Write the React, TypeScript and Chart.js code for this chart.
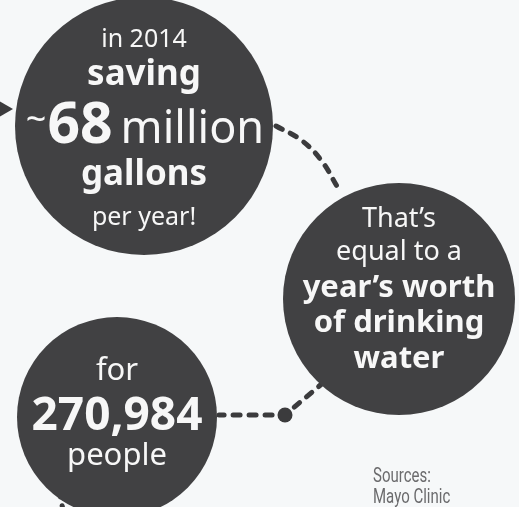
import React, { useEffect, useRef } from "react";
import { Chart, registerables } from "chart.js";

Chart.register(...registerables);

// Bubbles (centre x, centre y, radius in px)
const circleX = [144, 399, 117];
const circleY = [126, 299, 417];
const circleR = [129, 116, 100];

// Dashed connectors
const connA_X = [276, 301, 321, 338];
const connA_Y = [126, 140, 160, 188];
const connB_X = [324, 285, 219];
const connB_Y = [382, 415, 415];
const connC_X = [59, 64];
const connC_Y = [490, 515];
const dotX = [285];
const dotY = [415];
const arrowX = [4];
const arrowY = [109];

// Texts
const circle1Lines = ["in 2014", "saving", "~|68|million", "gallons", "per year!"];
const circle2Lines = ["That’s", "equal to a", "year’s worth", "of drinking", "water"];
const circle3Lines = ["for", "270,984", "people"];
const sourceLines = ["Sources:", "Mayo Clinic"];

const FONT = '"Noto Sans", "Open Sans", sans-serif';
const DARK = "#414143";
const TEXT = "#f7f7f7";

type Style = { size: number; bold: boolean; dy: number };
const circle1Style: Style[] = [
  { size: 25, bold: false, dy: -79 },
  { size: 35, bold: true, dy: -41 },
  { size: 45, bold: false, dy: 17 },
  { size: 35, bold: true, dy: 59 },
  { size: 25, bold: false, dy: 99 },
];
const circle2Style: Style[] = [
  { size: 27, bold: false, dy: -72 },
  { size: 27, bold: false, dy: -39 },
  { size: 31, bold: true, dy: -2 },
  { size: 31, bold: true, dy: 33 },
  { size: 31, bold: true, dy: 69 },
];
const circle3Style: Style[] = [
  { size: 31, bold: false, dy: -37 },
  { size: 46, bold: true, dy: 13 },
  { size: 31, bold: false, dy: 48 },
];

const textPlugin = {
  id: "bubbleText",
  afterDatasetsDraw(chart: any) {
    const ctx = chart.ctx as CanvasRenderingContext2D;
    const xs = chart.scales.x;
    const ys = chart.scales.y;
    ctx.save();
    ctx.textBaseline = "alphabetic";
    const groups: [string[], Style[], number][] = [
      [circle1Lines, circle1Style, 0],
      [circle2Lines, circle2Style, 1],
      [circle3Lines, circle3Style, 2],
    ];
    for (const [lines, styles, ci] of groups) {
      const cx = xs.getPixelForValue(circleX[ci]);
      const cy = ys.getPixelForValue(circleY[ci]);
      lines.forEach((line, i) => {
        const st = styles[i];
        ctx.fillStyle = TEXT;
        if (line.includes("|")) {
          const parts = line.split("|");
          const segs = [
            { t: parts[0], f: `400 36px ${FONT}`, dy: -11, gap: 1 },
            { t: parts[1], f: `700 57px ${FONT}`, dy: 0, gap: 8 },
            { t: parts[2], f: `400 ${st.size}px ${FONT}`, dy: 0, gap: 0 },
          ];
          let total = 0;
          const widths = segs.map((s) => {
            ctx.font = s.f;
            const w = ctx.measureText(s.t).width;
            total += w + s.gap;
            return w;
          });
          let x = cx + 1 - total / 2;
          ctx.textAlign = "left";
          segs.forEach((s, k) => {
            ctx.font = s.f;
            ctx.fillText(s.t, x, cy + st.dy + s.dy);
            x += widths[k] + s.gap;
          });
        } else {
          ctx.textAlign = "center";
          ctx.font = `${st.bold ? 700 : 400} ${st.size}px ${FONT}`;
          ctx.fillText(line, cx, cy + st.dy);
        }
      });
    }
    ctx.fillStyle = "#6b6b6d";
    ctx.textAlign = "left";
    ctx.font = `20px Roboto, "Noto Sans", sans-serif`;
    ctx.save();
    ctx.translate(373, 0);
    ctx.scale(0.75, 1);
    ctx.fillText(sourceLines[0], 0, 482);
    ctx.fillText(sourceLines[1], 0, 503);
    ctx.restore();
    ctx.restore();
  },
};

const bgPlugin = {
  id: "bg",
  beforeDraw(chart: any) {
    const ctx = chart.ctx as CanvasRenderingContext2D;
    ctx.save();
    ctx.fillStyle = "#f6f8f9";
    ctx.fillRect(0, 0, chart.width, chart.height);
    ctx.restore();
  },
};

const toPts = (xs: number[], ys: number[]) => xs.map((x, i) => ({ x, y: ys[i] }));

export default function App() {
  const ref = useRef<HTMLCanvasElement | null>(null);
  useEffect(() => {
    if (!ref.current) return;
    const dash = {
      type: "line" as const,
      borderColor: "#3b3b3d",
      borderWidth: 5,
      borderDash: [7, 9],
      borderCapStyle: "round" as const,
      pointRadius: 0,
      fill: false,
      clip: false,
      order: 2,
    };
    const chart = new Chart(ref.current, {
      type: "bubble",
      data: {
        datasets: [
          {
            type: "bubble",
            data: circleX.map((x, i) => ({ x, y: circleY[i], r: circleR[i] })),
            backgroundColor: DARK,
            borderWidth: 0,
            hoverRadius: 0,
            clip: false,
            order: 0,
          } as any,
          { ...dash, data: toPts(connA_X, connA_Y), tension: 0.4 } as any,
          { ...dash, data: toPts(connB_X, connB_Y), tension: 0 } as any,
          { ...dash, data: toPts(connC_X, connC_Y), tension: 0 } as any,
          {
            type: "scatter",
            data: toPts(dotX, dotY),
            pointRadius: 7.5,
            backgroundColor: "#3b3b3d",
            borderWidth: 0,
            clip: false,
            order: 1,
          } as any,
          {
            type: "scatter",
            data: toPts(arrowX, arrowY),
            pointStyle: "triangle",
            rotation: 90,
            pointRadius: 9,
            backgroundColor: "#3b3b3d",
            borderWidth: 0,
            clip: false,
            order: 1,
          } as any,
        ],
      },
      options: {
        animation: false,
        responsive: false,
        events: [],
        devicePixelRatio: 1,
        layout: { padding: 0, autoPadding: false } as any,
        plugins: { legend: { display: false }, tooltip: { enabled: false } },
        scales: {
          x: { type: "linear", min: 0, max: 519, display: false },
          y: { type: "linear", min: 0, max: 507, reverse: true, display: false },
        },
      },
      plugins: [bgPlugin, textPlugin],
    });
    return () => chart.destroy();
  }, []);
  return (
    <div style={{ position: "fixed", left: 0, top: 0, width: 519, height: 507, background: "#f6f8f9" }}>
      <canvas ref={ref} width={519} height={507} style={{ display: "block" }} />
    </div>
  );
}
